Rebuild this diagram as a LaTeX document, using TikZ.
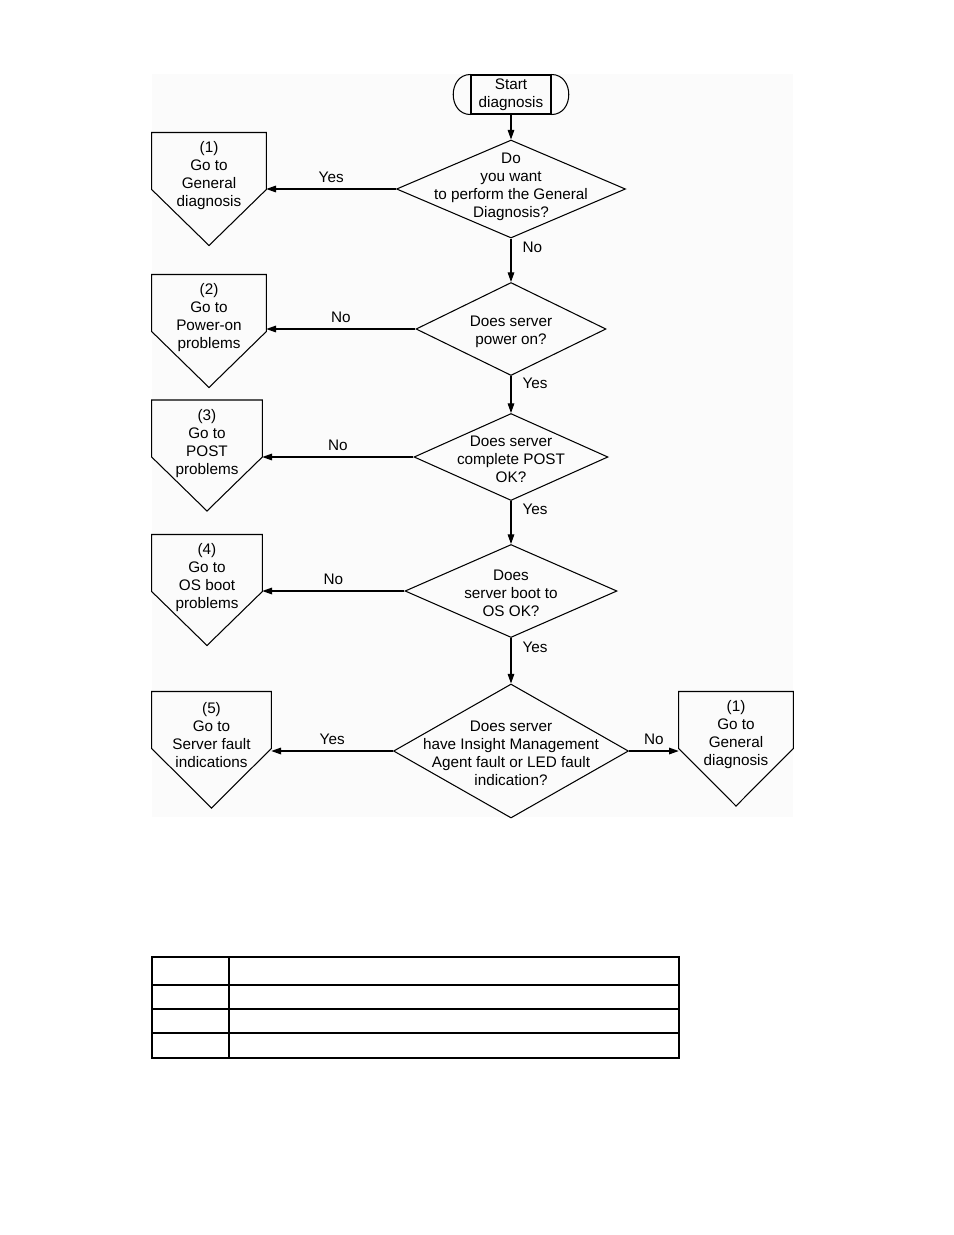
\documentclass[tikz,border=0pt]{standalone}
\usepackage{fontspec}
\setmainfont{Liberation Sans}
\usetikzlibrary{positioning,shapes.geometric,arrows.meta,calc}

% outline of an off-page "go to" box round a text node
\newcommand{\gotoshape}[2]{%
  \draw[outline] ($(#1.west)+(0,-43.5)$) -- ($(#1.east)+(0,-43.5)$)
    -- ($(#1.east)+(0,13.5)$) -- ($(#1.center)+(0,#2)$)
    -- ($(#1.west)+(0,13.5)$) -- cycle;}

\begin{document}
\begin{tikzpicture}[
    x=0.02cm, y=-0.02cm,
    every node/.style={font=\fontsize{8.7}{10.25}\selectfont},
    outline/.style={draw, line width=0.6pt},
    flow/.style={outline, -{Triangle[length=5.5pt,width=3.8pt]}},
    startbox/.style={draw, line width=0.6pt, minimum width=1.6cm,
                     minimum height=0.78cm, inner sep=0pt, align=center},
    decision/.style={diamond, draw, line width=0.6pt, inner sep=0pt},
    qtext/.style={align=center, yshift=-0.05cm},
    gotobox/.style={inner sep=0pt, align=center},
    hlabel/.style={above, midway, text depth=1.8pt, inner sep=1.8pt},
    vlabel/.style={right, pos=0.2, xshift=3pt},
    tableline/.style={line width=1.1pt}
  ]
    \useasboundingbox (0,0) rectangle (954,1235);
    \fill[black!1.5] (152,74) rectangle (793,817);

    % Start
    \node[startbox] (st) at (511,94.5) {Start\\diagnosis};
    \draw[outline] (st.north west) .. controls +(-23,0) and +(-23,0) .. (st.south west);
    \draw[outline] (st.north east) .. controls +(23,0) and +(23,0) .. (st.south east);

    % Decisions down the middle
    \node[decision, minimum width=4.58cm, minimum height=1.96cm,
          label={[align=center, yshift=0.05cm]center:Do\\you want\\to perform the General\\Diagnosis?}]
          (d1) at (511,189) {};
    \node[decision, minimum width=3.8cm, minimum height=1.86cm,
          label={[qtext]center:Does server\\power on?}] (d2) at (511,329) {};
    \node[decision, minimum width=3.88cm, minimum height=1.74cm,
          label={[qtext]center:Does server\\complete POST\\OK?}] (d3) at (511,457) {};
    \node[decision, minimum width=4.24cm, minimum height=1.86cm,
          label={[qtext]center:Does\\server boot to\\OS OK?}] (d4) at (511,591) {};
    \node[decision, minimum width=4.7cm, minimum height=2.68cm,
          label={[qtext]center:Does server\\have Insight Management\\Agent fault or LED fault\\indication?}]
          (d5) at (511,751) {};

    % Go-to boxes
    \node[gotobox, minimum width=2.28cm] (g1) at (209,176) {(1)\\Go to\\General\\diagnosis};
    \node[gotobox, minimum width=2.28cm] (g2) at (209,318) {(2)\\Go to\\Power-on\\problems};
    \node[gotobox, minimum width=2.2cm]  (g3) at (207,443.5) {(3)\\Go to\\POST\\problems};
    \node[gotobox, minimum width=2.2cm]  (g4) at (207,578) {(4)\\Go to\\OS boot\\problems};
    \node[gotobox, minimum width=2.38cm] (g5) at (211.5,735) {(5)\\Go to\\Server fault\\indications};
    \node[gotobox, minimum width=2.28cm] (g6) at (736,735) {(1)\\Go to\\General\\diagnosis};
    \gotoshape{g1}{69.5}
    \gotoshape{g2}{69.5}
    \gotoshape{g3}{67.5}
    \gotoshape{g4}{67.5}
    \gotoshape{g5}{73}
    \gotoshape{g6}{71}

    % Connections
    \draw[flow] (st) -- (d1);
    \draw[flow] (d1) -- node[vlabel]{No} (d2);
    \draw[flow] (d2) -- node[vlabel]{Yes} (d3);
    \draw[flow] (d3) -- node[vlabel]{Yes} (d4);
    \draw[flow] (d4) -- node[vlabel]{Yes} (d5);
    \draw[flow] (d1.west) -- node[hlabel]{Yes} (d1.west -| g1.east);
    \draw[flow] (d2.west) -- node[hlabel]{No} (d2.west -| g2.east);
    \draw[flow] (d3.west) -- node[hlabel]{No} (d3.west -| g3.east);
    \draw[flow] (d4.west) -- node[hlabel]{No} (d4.west -| g4.east);
    \draw[flow] (d5.west) -- node[hlabel]{Yes} (d5.west -| g5.east);
    \draw[flow] (d5.east) -- node[hlabel]{No} (d5.east -| g6.west);

    % Empty table
    \draw[tableline] (152,957) rectangle (679,1058);
    \draw[tableline] (229,957) -- (229,1058);
    \foreach \ty in {985,1009,1033}
      \draw[tableline] (152,\ty) -- (679,\ty);
\end{tikzpicture}
\end{document}
